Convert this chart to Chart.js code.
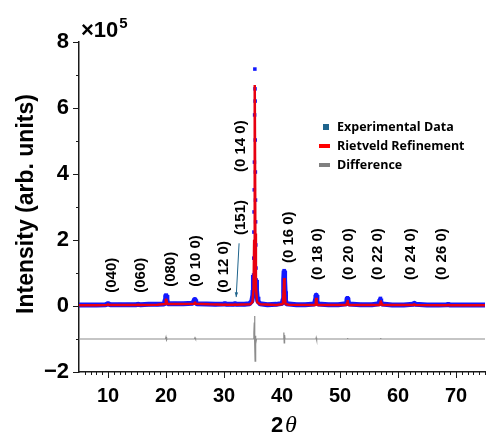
<!DOCTYPE html>
<html>
<head>
<meta charset="utf-8">
<script src="https://cdn.jsdelivr.net/npm/chart.js@4.4.0/dist/chart.umd.min.js"></script>
<style>
  html, body { margin: 0; padding: 0; background: #fff; }
  canvas { display: block; }
</style>
</head>
<body>
<canvas id="xrd" width="489" height="435"></canvas>
<script>
// ─── Pattern data (2θ in degrees, intensity in units of 1e5) ────────────────
const expX = [5, 6.5, 8, 9.6, 9.95, 10.05, 10.4, 12, 13.5, 14.8, 15.15, 15.25, 15.6, 17, 18.5, 19.7, 19.85, 19.95,
  20.05, 20.15, 20.3, 21.5, 23, 24.6, 24.82, 24.92, 25.02, 25.12, 25.3, 27, 28.5, 29.9, 30.15, 30.25, 30.5, 31.6,
  31.85, 31.95, 32.2, 33.5, 34.4, 34.8,
  34.98, 35.02, 35.06, 35.10, 35.13, 35.16, 35.19, 35.22, 35.25, 35.28, 35.32, 35.35, 35.37, 35.39, 35.41, 35.43,
  35.45, 35.48, 35.51, 35.55, 35.6, 35.7, 35.85, 36.2, 37.5, 39, 40.05, 40.2, 40.27, 40.32, 40.37, 40.42, 40.47,
  40.53, 40.6, 40.75, 42.5, 44, 45.6, 45.78, 45.85, 45.95, 46.02, 46.2, 48, 49.7, 51.05, 51.2, 51.28, 51.36, 51.5,
  53.5, 55.5, 56.75, 56.9, 56.98, 57.06, 57.2, 59, 61, 62.6, 62.75, 62.85, 63.0, 65, 67, 68.5, 68.65, 68.75, 68.9,
  71, 73, 75];
const expY = [0.03, 0.03, 0.03, 0.04, 0.07, 0.07, 0.04, 0.04, 0.04, 0.04, 0.05, 0.05, 0.04, 0.05, 0.05, 0.06, 0.18, 0.31,
  0.33, 0.2, 0.07, 0.07, 0.07, 0.08, 0.15, 0.2, 0.2, 0.12, 0.07, 0.06, 0.05, 0.06, 0.07, 0.07, 0.05, 0.05,
  0.07, 0.07, 0.05, 0.05, 0.07, 0.15,
  0.33, 0.48, 0.64, 0.94, 1.45, 2.24, 2.85, 3.52, 4.36, 5.79, 7.18, 6.58, 6.21, 5.03, 4.06, 3.21,
  2.55, 1.85, 1.15, 0.79, 0.48, 0.28, 0.14, 0.07, 0.04, 0.05, 0.08, 0.2, 0.45, 0.8, 1.07, 1.05, 0.8,
  0.45, 0.18, 0.07, 0.04, 0.04, 0.06, 0.2, 0.33, 0.33, 0.15, 0.06, 0.04, 0.04, 0.07, 0.2, 0.25, 0.2, 0.06,
  0.04, 0.04, 0.07, 0.2, 0.23, 0.15, 0.06, 0.03, 0.03, 0.05, 0.08, 0.08, 0.05, 0.03, 0.03, 0.04, 0.05, 0.05, 0.03,
  0.03, 0.03, 0.03];

const calcX = [5, 8, 9.8, 10.0, 10.2, 14.9, 15.2, 15.5, 18.5, 19.85, 19.97, 20.07, 20.2, 22.5, 24.85, 24.97, 25.1, 27.5,
  30.0, 30.2, 30.4, 31.8, 31.9, 32.0, 34.5, 34.9, 35.1, 35.2, 35.3, 35.4, 35.5, 35.7, 36.2, 39, 40.15, 40.3, 40.37,
  40.44, 40.6, 41.2, 45.7, 45.83, 45.9, 45.97, 46.1, 51.1, 51.22, 51.29, 51.36, 51.5, 56.85, 56.95, 57.02, 57.09, 57.2,
  62.65, 62.8, 62.95, 68.55, 68.7, 68.85, 75];
const calcY = [0.02, 0.02, 0.03, 0.05, 0.03, 0.03, 0.04, 0.03, 0.04, 0.06, 0.2, 0.2, 0.06, 0.06, 0.07, 0.13, 0.07, 0.05,
  0.04, 0.05, 0.04, 0.04, 0.05, 0.04, 0.05, 0.12, 0.5, 2.0, 6.7, 2.2, 0.6, 0.12, 0.05, 0.03, 0.06, 0.5, 0.85,
  0.5, 0.06, 0.04, 0.03, 0.12, 0.25, 0.12, 0.03, 0.03, 0.1, 0.18, 0.1, 0.03, 0.03, 0.1, 0.17, 0.1, 0.03,
  0.03, 0.06, 0.03, 0.02, 0.04, 0.02, 0.02];

// difference curve is offset to -1e5
const diffX = [5, 19.9, 20.0, 20.1, 20.2, 24.9, 25.0, 25.1, 35.05, 35.15, 35.22, 35.28, 35.32, 35.36, 35.42, 35.5, 35.6,
  40.25, 40.32, 40.38, 40.45, 40.52, 45.85, 45.9, 45.95, 46.0, 51.25, 51.3, 51.35, 56.95, 57.0, 57.05, 75];
const diffY = [-1.0, -1.0, -0.94, -1.03, -1.0, -1.0, -0.96, -1.0, -1.0, -0.8, -0.5, -0.3, -1.2, -1.67, -0.9, -1.15, -1.0,
  -1.0, -0.8, -1.12, -0.88, -1.0, -1.0, -0.96, -1.02, -1.0, -1.0, -0.97, -1.0, -1.0, -0.97, -1.0, -1.0];

// (hkl) reflections: text and the (2θ, intensity) spot where each label starts
const hklLabels = ['(040)', '(060)', '(080)', '(0 10 0)', '(0 12 0)', '(151)', '(0 14 0)',
  '(0 16 0)', '(0 18 0)', '(0 20 0)', '(0 22 0)', '(0 24 0)', '(0 26 0)'];
const hklTheta = [10.6, 15.7, 20.8, 25.1, 29.9, 32.9, 32.9, 41.1, 46.1, 51.5, 56.6, 62.2, 67.5];
const hklBase = [0.4, 0.4, 0.58, 0.58, 0.4, 2.15, 4.06, 1.3, 0.79, 0.79, 0.79, 0.79, 0.79];

const xTickValues = [10, 20, 30, 40, 50, 60, 70];
const yTickValues = [-2, 0, 2, 4, 6, 8];

const legendLabels = ['Experimental Data', 'Rietveld Refinement', 'Difference'];

// ─── Styles ─────────────────────────────────────────────────────────────────
const BLUE = 'rgb(18, 24, 255)';
const RED = 'rgb(232, 0, 16)';
const GRAY = 'rgb(140, 140, 140)';
const TEAL = 'rgb(31, 100, 140)';
const AXIS = '#1a1a1a';
const FONT = '"Liberation Sans", Arial, sans-serif';

// the tall (0 14 0) flank is recorded as separate squares, no connecting line
const SPARSE_FROM = 35.09;
const SPARSE_TO = 35.56;

const toPoints = (xs, ys) => xs.map((x, i) => ({ x, y: ys[i] }));

// ─── Extra drawing: minor ticks, hkl labels, legend, titles ────────────────
const decor = {
  id: 'decor',
  afterDraw(chart) {
    const { ctx, chartArea, scales: { x, y } } = chart;
    ctx.save();

    // axis ticks (outward), majors longer
    ctx.strokeStyle = AXIS;
    ctx.lineWidth = 1;
    ctx.beginPath();
    for (let v = 6; v <= 75; v++) {
      const px = Math.round(x.getPixelForValue(v)) + 0.5;
      const len = v % 10 === 0 ? 6 : 3;
      ctx.moveTo(px, chartArea.bottom);
      ctx.lineTo(px, chartArea.bottom + len);
    }
    for (let v = -2; v <= 8; v++) {
      const py = Math.round(y.getPixelForValue(v)) + 0.5;
      const len = v % 2 === 0 ? 6 : 3;
      ctx.moveTo(chartArea.left, py);
      ctx.lineTo(chartArea.left - len, py);
    }
    ctx.stroke();

    // hkl labels, rotated
    ctx.fillStyle = '#000';
    ctx.font = `bold 15px ${FONT}`;
    ctx.textAlign = 'left';
    ctx.textBaseline = 'middle';
    hklLabels.forEach((txt, i) => {
      ctx.save();
      ctx.translate(x.getPixelForValue(hklTheta[i]), y.getPixelForValue(hklBase[i]));
      ctx.rotate(-Math.PI / 2);
      ctx.fillText(txt, 0, 0);
      ctx.restore();
    });

    // arrow from (151) down to its weak reflection
    const ax0 = x.getPixelForValue(32.6), ay0 = y.getPixelForValue(1.9);
    const ax1 = x.getPixelForValue(32.1), ay1 = y.getPixelForValue(0.27);
    ctx.strokeStyle = TEAL;
    ctx.fillStyle = TEAL;
    ctx.lineWidth = 1;
    ctx.beginPath();
    ctx.moveTo(ax0, ay0);
    ctx.lineTo(ax1, ay1);
    ctx.stroke();
    const ang = Math.atan2(ay1 - ay0, ax1 - ax0);
    ctx.beginPath();
    ctx.moveTo(ax1, ay1);
    ctx.lineTo(ax1 - 5 * Math.cos(ang - 0.35), ay1 - 5 * Math.sin(ang - 0.35));
    ctx.lineTo(ax1 - 5 * Math.cos(ang + 0.35), ay1 - 5 * Math.sin(ang + 0.35));
    ctx.closePath();
    ctx.fill();

    // legend
    const lx = 337, rows = [127, 146, 165];
    ctx.font = 'bold 12.5px "Open Sans", sans-serif';
    ctx.textBaseline = 'middle';
    ctx.fillStyle = TEAL;
    ctx.fillRect(323, rows[0] - 3, 6, 6);
    ctx.fillStyle = 'rgb(255, 0, 0)';
    ctx.fillRect(319, rows[1] - 2, 11, 4);
    ctx.fillStyle = 'rgb(128, 128, 128)';
    ctx.fillRect(319, rows[2] - 2, 11, 4);
    ctx.fillStyle = '#000';
    legendLabels.forEach((txt, i) => ctx.fillText(txt, lx, rows[i]));

    // y axis title
    ctx.save();
    ctx.translate(27, 204);
    ctx.rotate(-Math.PI / 2);
    ctx.font = `bold 23px ${FONT}`;
    ctx.textAlign = 'center';
    ctx.fillText('Intensity (arb. units)', 0, 0);
    ctx.restore();

    // x axis title: 2θ
    ctx.textBaseline = 'alphabetic';
    ctx.textAlign = 'left';
    ctx.font = `bold 22px ${FONT}`;
    ctx.fillText('2', 271, 432);
    ctx.font = 'italic 24px "Liberation Serif", serif';
    ctx.fillText('θ', 285, 432);

    // scale factor ×10^5
    ctx.font = `bold 22px ${FONT}`;
    ctx.fillText('×10', 81, 37);
    const w = ctx.measureText('×10').width;
    ctx.font = `bold 15px ${FONT}`;
    ctx.fillText('5', 81 + w + 1, 28);

    ctx.restore();
  }
};

new Chart(document.getElementById('xrd'), {
  type: 'scatter',
  data: {
    datasets: [
      {
        label: legendLabels[1],
        data: toPoints(calcX, calcY),
        showLine: true,
        borderColor: RED,
        borderWidth: 2.5,
        borderJoinStyle: 'bevel',
        pointRadius: 0,
        order: 0,
      },
      {
        label: legendLabels[0],
        data: toPoints(expX, expY),
        showLine: true,
        borderColor: BLUE,
        borderWidth: 5,
        borderJoinStyle: 'bevel',
        pointStyle: 'rect',
        pointRadius: 2.5,
        pointBorderWidth: 0,
        pointBackgroundColor: BLUE,
        segment: {
          borderColor: c => (c.p0.parsed.x >= SPARSE_FROM && c.p1.parsed.x <= SPARSE_TO) ? 'transparent' : BLUE,
        },
        order: 1,
      },
      {
        label: legendLabels[2],
        data: toPoints(diffX, diffY),
        showLine: true,
        borderColor: GRAY,
        borderWidth: 1.2,
        pointRadius: 0,
        order: 2,
      },
    ],
  },
  options: {
    responsive: false,
    animation: false,
    events: [],
    layout: { padding: { top: 42, right: 0, left: 0, bottom: 0 } },
    plugins: { legend: { display: false }, tooltip: { enabled: false } },
    scales: {
      x: {
        type: 'linear',
        min: 5,
        max: 75,
        afterBuildTicks: s => { s.ticks = xTickValues.map(v => ({ value: v })); },
        afterFit: s => { s.height = 63; },
        grid: { display: false, drawTicks: false },
        border: { display: true, color: AXIS, width: 1.5 },
        ticks: { padding: 12, color: '#000', font: { family: FONT, size: 20, weight: 'bold' } },
      },
      y: {
        type: 'linear',
        min: -2,
        max: 8,
        afterBuildTicks: s => { s.ticks = yTickValues.map(v => ({ value: v })); },
        afterFit: s => { s.width = 79; },
        grid: { display: false, drawTicks: false },
        border: { display: true, color: AXIS, width: 1.5 },
        ticks: {
          padding: 10,
          color: '#000',
          font: { family: FONT, size: 22, weight: 'bold' },
          callback: v => (v < 0 ? '\u2212' + Math.abs(v) : String(v)),
        },
      },
    },
  },
  plugins: [decor],
});
</script>
</body>
</html>
